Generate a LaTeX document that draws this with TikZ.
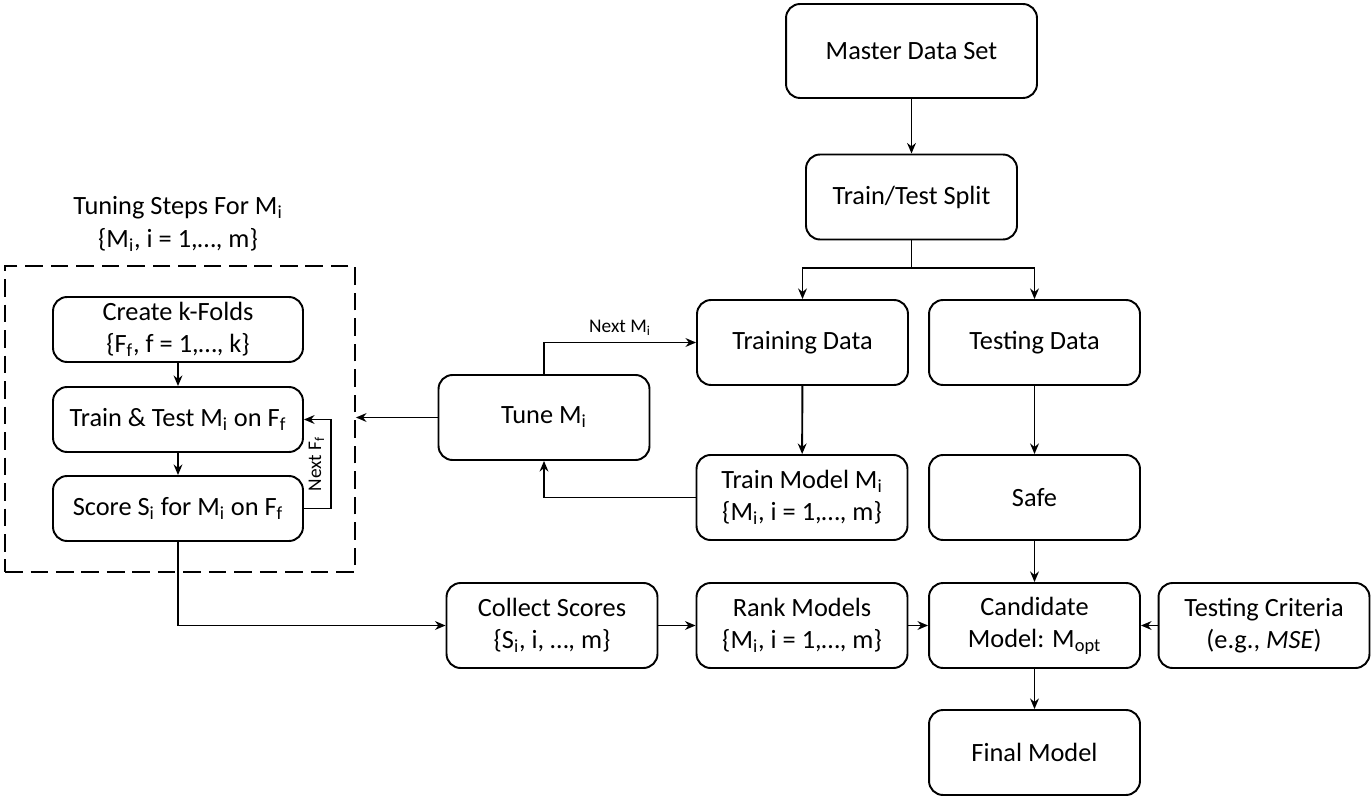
\documentclass[tikz,border=0pt]{standalone}
\usepackage{fontspec}
\setmainfont{Carlito}
\usetikzlibrary{arrows.meta,positioning}
\newcommand{\low}[1]{\textsubscript{#1}}

\begin{document}
\begin{tikzpicture}[x=0.02cm, y=-0.02cm, line width=1.1pt, >={Stealth[length=6pt,width=5pt]},
    font=\fontsize{15}{18.5}\selectfont,
    stepbox/.style={draw, rounded corners=8pt, align=center, minimum width=4.22cm, minimum height=1.7cm, inner sep=2pt},
    innerbox/.style={stepbox, minimum width=5cm, minimum height=1.3cm},
    tag/.style={font=\fontsize{11}{13}\selectfont}]
  \useasboundingbox (0,0) rectangle (1372,800);
  % ---------------------------------------------------------------- main column
  \node[stepbox, minimum width=5.02cm, minimum height=1.88cm] (master) at (911.5,51) {Master Data Set};
  \node[stepbox] (split) at (911.5,197) {Train/Test Split};
  \node[stepbox] (train) at (802.5,342.5) {Training Data};
  \node[stepbox] (test) at (1034.5,342.5) {Testing Data};
  \node[stepbox] (model) at (802,497.5) {Train Model M\low{i}\\\{M\low{i}, i = 1,…, m\}};
  \node[stepbox] (safe) at (1034.5,497.5) {Safe};
  \node[stepbox] (rank) at (802,625.5) {Rank Models\\\{M\low{i}, i = 1,…, m\}};
  \node[stepbox] (cand) at (1034.5,625.5) {Candidate\\Model: M\low{opt}};
  \node[stepbox] (crit) at (1264,625.5) {Testing Criteria\\(e.g., \textit{MSE})};
  \node[stepbox] (final) at (1034.5,752.5) {Final Model};
  \node[stepbox] (collect) at (552,625.5) {Collect Scores\\\{S\low{i}, i, …, m\}};
  \node[stepbox] (tune) at (544,417.5) {Tune M\low{i}};
  % ---------------------------------------------------------------- tuning steps
  \node[align=center] (title) at (178,224) {Tuning Steps For M\low{i}\\\{M\low{i}, i = 1,…, m\}};
  \node[draw, dash pattern=on 10pt off 4.5pt, minimum width=7cm, minimum height=6.12cm] (tuning) at (180,419) {};
  \node[innerbox] (folds) at (178,329.5) {Create k-Folds\\\{F\low{f}, f = 1,…, k\}};
  \node[innerbox] (fit) at (178,419.5) {Train \& Test M\low{i} on F\low{f}};
  \node[innerbox] (score) at (178,508.5) {Score S\low{i} for M\low{i} on F\low{f}};
  % ---------------------------------------------------------------- connectors
  \draw[->] (master) -- (split);
  \draw (split.south) -- ++(0,28) coordinate (fork);
  \draw[->] (fork) -| (train.north);
  \draw[->] (fork) -| (test.north);
  \draw[->] (train) -- (model);
  \draw[->] (test) -- (safe);
  \draw[->] (safe) -- (cand);
  \draw[->] (cand) -- (final);
  \draw[->] (crit) -- (cand);
  \draw[->] (rank) -- (cand);
  \draw[->] (collect) -- (rank);
  \draw[->] (model.west) -| (tune.south);
  \draw[->] (tune.north) |- node[tag, above, pos=0.75] {Next M\low{i}} (train.west);
  \draw[->] (tune.west) -- (tune.west -| tuning.east);
  \draw[->] (folds) -- (fit);
  \draw[->] (fit) -- (score);
  \draw[->] (score.east) -- ++(27,0) |- node[tag, rotate=90, anchor=south, pos=0.25] {Next F\low{f}} (fit.east);
  \draw[->] (score.south) |- (collect.west);
\end{tikzpicture}
\end{document}
